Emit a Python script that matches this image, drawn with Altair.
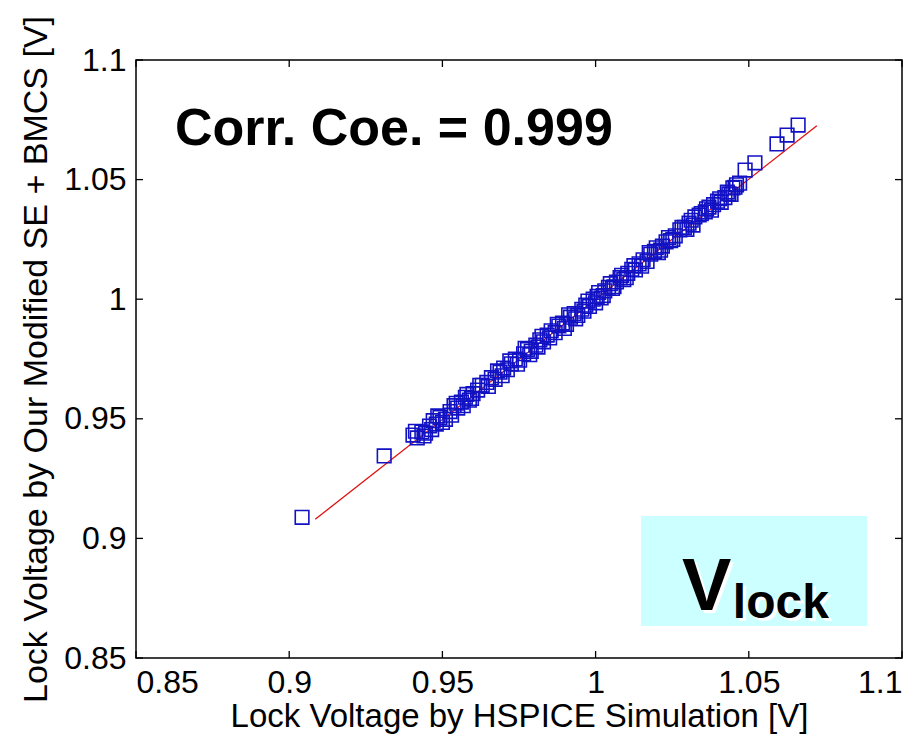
import altair as alt
import pandas as pd

# HSPICE (x) vs modified SE + BMCS (y) lock voltages
x_vals = [0.9042, 0.9310, 0.9404, 0.9418, 0.9433, 0.9445, 0.9458, 0.9470, 0.9480, 0.9492,
          0.9510, 0.9525, 0.9538, 0.9550, 0.9562, 0.9575, 0.9588, 0.9600, 0.9615, 0.9630,
          0.9645, 0.9660, 0.9672, 0.9688, 0.9700, 0.9712, 0.9725, 0.9738, 0.9752, 0.9765,
          0.9778, 0.9790, 0.9805, 0.9818, 0.9830, 0.9842, 0.9855, 0.9868, 0.9880, 0.9892,
          0.9905, 0.9918, 0.9930, 0.9942, 0.9955, 0.9968, 0.9980, 0.9992, 1.0005, 1.0018,
          1.0030, 1.0042, 1.0055, 1.0068, 1.0080, 1.0092, 1.0105, 1.0118, 1.0130, 1.0142,
          1.0155, 1.0168, 1.0180, 1.0192, 1.0205, 1.0218, 1.0230, 1.0245, 1.0260, 1.0275,
          1.0290, 1.0305, 1.0318, 1.0324, 1.0345, 1.0358, 1.0370, 1.0385, 1.0398, 1.0410,
          1.0422, 1.0435, 1.0448, 1.0460, 1.0488, 1.0520, 1.0592, 1.0625, 1.0661,
          0.9412, 0.9440, 0.9465, 0.9485, 0.9500, 0.9530, 0.9545, 0.9568, 0.9580, 0.9595,
          0.9622, 0.9650, 0.9680, 0.9695, 0.9720, 0.9745, 0.9770, 0.9785, 0.9812, 0.9825,
          0.9850, 0.9875, 0.9898, 0.9912, 0.9935, 0.9962, 0.9975, 1.0000, 1.0010, 1.0025,
          1.0048, 1.0060, 1.0085, 1.0100, 1.0125, 1.0150, 1.0175, 1.0198, 1.0212, 1.0238,
          1.0252, 1.0282, 1.0298, 1.0312, 1.0338, 1.0362, 1.0378, 1.0405, 1.0430, 1.0442,
          1.0455, 1.0470]
y_vals = [0.9088, 0.9345, 0.9432, 0.9420, 0.9445, 0.9440, 0.9470, 0.9492, 0.9478, 0.9505,
          0.9498, 0.9530, 0.9555, 0.9545, 0.9570, 0.9590, 0.9578, 0.9605, 0.9620, 0.9640,
          0.9652, 0.9672, 0.9665, 0.9695, 0.9712, 0.9705, 0.9730, 0.9750, 0.9745, 0.9772,
          0.9790, 0.9782, 0.9808, 0.9830, 0.9822, 0.9850, 0.9868, 0.9860, 0.9888, 0.9900,
          0.9895, 0.9925, 0.9940, 0.9932, 0.9958, 0.9975, 0.9970, 1.0000, 1.0012, 1.0005,
          1.0035, 1.0050, 1.0045, 1.0072, 1.0090, 1.0082, 1.0108, 1.0125, 1.0122, 1.0148,
          1.0165, 1.0158, 1.0188, 1.0200, 1.0195, 1.0222, 1.0240, 1.0245, 1.0265, 1.0290,
          1.0300, 1.0318, 1.0310, 1.0344, 1.0358, 1.0365, 1.0385, 1.0395, 1.0410, 1.0405,
          1.0425, 1.0440, 1.0465, 1.0478, 1.0540, 1.0570, 1.0649, 1.0686, 1.0728,
          0.9448, 0.9428, 0.9455, 0.9512, 0.9485, 0.9515, 0.9565, 0.9555, 0.9602, 0.9585,
          0.9640, 0.9635, 0.9700, 0.9680, 0.9742, 0.9728, 0.9795, 0.9768, 0.9800, 0.9845,
          0.9838, 0.9895, 0.9878, 0.9935, 0.9918, 0.9950, 0.9992, 0.9985, 1.0028, 1.0015,
          1.0065, 1.0052, 1.0100, 1.0090, 1.0140, 1.0138, 1.0195, 1.0215, 1.0205, 1.0258,
          1.0250, 1.0300, 1.0292, 1.0330, 1.0352, 1.0378, 1.0372, 1.0420, 1.0448, 1.0438,
          1.0468, 1.0485]

fit_x = [0.9085, 1.0722]
fit_y = [0.9080, 1.0725]

tick_vals = [0.85, 0.9, 0.95, 1.0, 1.05, 1.1]

corr_label = ["Corr. Coe. = 0.999"]
corr_pos = [0.8627, 1.0645]

box_x = [1.0148, 1.0886]
box_y = [0.8634, 0.9094]
v_pos = [1.0282, 0.8701]
sub_pos = [1.0448, 0.8667]

W, H = 766, 598
FONT = "Liberation Sans"

df = pd.DataFrame({"x": x_vals, "y": y_vals})
fit_df = pd.DataFrame({"x": fit_x, "y": fit_y})
ticks_df = pd.DataFrame({"t": tick_vals})

xs = alt.Scale(domain=[0.85, 1.1], nice=False, zero=False)
ys = alt.Scale(domain=[0.85, 1.1], nice=False, zero=False)

x_axis = alt.Axis(values=tick_vals, format="~g", ticks=False, domain=False, grid=False,
                  labelFont=FONT, labelFontSize=32, labelPadding=9, labelOverlap=False,
                  labelColor="black", title="Lock Voltage by HSPICE Simulation [V]",
                  titleFont=FONT, titleFontSize=33, titleFontWeight="normal",
                  titleColor="black", titlePadding=2)
y_axis = alt.Axis(values=tick_vals, format="~g", ticks=False, domain=False, grid=False,
                  labelFont=FONT, labelFontSize=32, labelPadding=10, labelOverlap=False,
                  labelColor="black", title="Lock Voltage by Our Modified SE + BMCS [V]",
                  titleFont=FONT, titleFontSize=34, titleFontWeight="normal",
                  titleColor="black", titlePadding=10)

box = alt.Chart(pd.DataFrame({"x1": [box_x[0]], "x2": [box_x[1]],
                              "y1": [box_y[0]], "y2": [box_y[1]]})).mark_rect(
    color="#ccffff").encode(
    x=alt.X("x1:Q", scale=xs, axis=x_axis), x2="x2:Q",
    y=alt.Y("y1:Q", scale=ys, axis=y_axis), y2="y2:Q")

fit = alt.Chart(fit_df).mark_line(color="#e01010", strokeWidth=1.3).encode(
    x=alt.X("x:Q", scale=xs), y=alt.Y("y:Q", scale=ys))

pts = alt.Chart(df).mark_point(shape="square", filled=False, size=185,
                               strokeWidth=1.6, color="#1212c4", opacity=1).encode(
    x=alt.X("x:Q", scale=xs), y=alt.Y("y:Q", scale=ys))

# inward ticks on all four sides
tb = alt.Chart(ticks_df).mark_rule(color="black", strokeWidth=1.3).encode(
    x=alt.X("t:Q", scale=xs), y=alt.value(H), y2=alt.value(H - 7))
tt = alt.Chart(ticks_df).mark_rule(color="black", strokeWidth=1.3).encode(
    x=alt.X("t:Q", scale=xs), y=alt.value(0), y2=alt.value(7))
tl = alt.Chart(ticks_df).mark_rule(color="black", strokeWidth=1.3).encode(
    y=alt.Y("t:Q", scale=ys), x=alt.value(0), x2=alt.value(7))
tr = alt.Chart(ticks_df).mark_rule(color="black", strokeWidth=1.3).encode(
    y=alt.Y("t:Q", scale=ys), x=alt.value(W), x2=alt.value(W - 7))

corr = alt.Chart(pd.DataFrame({"x": [corr_pos[0]], "y": [corr_pos[1]],
                               "s": corr_label})).mark_text(
    font=FONT, fontSize=52, fontWeight="bold", align="left", baseline="alphabetic",
    color="black").encode(x=alt.X("x:Q", scale=xs), y=alt.Y("y:Q", scale=ys), text="s:N")

def label(pos, txt, size, color, dx=0, dy=0):
    return alt.Chart(pd.DataFrame({"x": [pos[0]], "y": [pos[1]], "s": [txt]})).mark_text(
        font=FONT, fontSize=size, fontWeight="bold", align="left", baseline="alphabetic",
        color=color, dx=dx, dy=dy).encode(
        x=alt.X("x:Q", scale=xs), y=alt.Y("y:Q", scale=ys), text="s:N")

v_shadow = label(v_pos, "V", 74, "white", 3, 3)
v_text = label(v_pos, "V", 74, "black")
s_shadow = label(sub_pos, "lock", 48, "white", 3, 3)
s_text = label(sub_pos, "lock", 48, "black")

chart = alt.layer(box, fit, pts, tb, tt, tl, tr, corr,
                  v_shadow, v_text, s_shadow, s_text).properties(
    width=W, height=H,
    autosize=alt.AutoSizeParams(type="none"),
    padding={"left": 136, "top": 60, "right": 22, "bottom": 83},
    background="white",
).configure_view(stroke="black", strokeWidth=1.5)

chart.save("out.html", embed_options={"renderer": "svg", "actions": False})
